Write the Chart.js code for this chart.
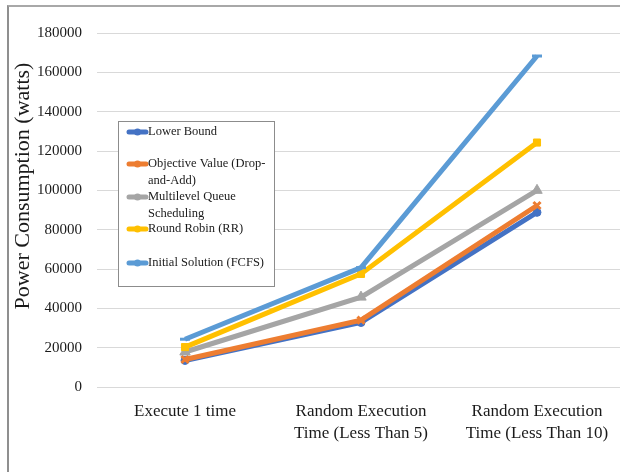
<!DOCTYPE html>
<html>
<head>
<meta charset="utf-8">
<script src="https://cdn.jsdelivr.net/npm/chart.js@4"></script>
<style>
  html, body { margin: 0; padding: 0; background: #fff; overflow: hidden; }
  #wrap { position: relative; width: 620px; height: 472px; overflow: hidden; }
  #box { position: absolute; left: 0; top: 0; width: 640px; height: 472px; }
  #frame { position: absolute; left: 7px; top: 5px; width: 700px; height: 600px;
           border-left: 2px solid #8f8f8f; border-top: 2px solid #a8a8a8; pointer-events: none; }
</style>
</head>
<body>
<div id="wrap">
  <div id="box"><canvas id="chart"></canvas></div>
  <div id="frame"></div>
</div>
<script>
// kategoriat (x-akseli), rivitetty
const categories = [
  ["Execute 1 time"],
  ["Random Execution", "Time (Less Than 5)"],
  ["Random Execution", "Time (Less Than 10)"]
];

// sarjat
const lowerBound      = [13500, 32800, 88800];
const objectiveValue  = [14000, 34000, 92300];
const multilevelQueue = [17800, 45700, 100000];
const roundRobin      = [20300, 57500, 124300];
const initialFCFS     = [24300, 60700, 168300];

const seriesNames = [
  "Lower Bound",
  "Objective Value (Drop-and-Add)",
  "Multilevel Queue Scheduling",
  "Round Robin (RR)",
  "Initial Solution (FCFS)"
];
// selitteen rivitys
const legendLines = [
  ["Lower Bound"],
  ["Objective Value (Drop-", "and-Add)"],
  ["Multilevel Queue", "Scheduling"],
  ["Round Robin (RR)"],
  ["Initial Solution (FCFS)"]
];

const yTickValues = [0, 20000, 40000, 60000, 80000, 100000, 120000, 140000, 160000, 180000];
const yTitle = "Power Consumption (watts)";

const colors  = ["#4472C4", "#ED7D31", "#A5A5A5", "#FFC000", "#5B9BD5"];
const markers = ["circle", "crossRot", "triangle", "rect", "line"];
const markerSize = [4, 5, 6, 5, 5];

const serif = "'Liberation Serif', 'Times New Roman', serif";
const seriesData = [lowerBound, objectiveValue, multilevelQueue, roundRobin, initialFCFS];

const datasets = seriesData.map(function (d, i) {
  return {
    label: seriesNames[i],
    data: d,
    borderColor: colors[i],
    backgroundColor: colors[i],
    pointBackgroundColor: colors[i],
    pointBorderColor: colors[i],
    pointStyle: markers[i],
    pointRadius: markerSize[i],
    pointBorderWidth: i === 1 || i === 4 ? 3 : 1,
    borderWidth: 5,
    tension: 0,
    order: 4 - i   // viimeinen sarja päällimmäiseksi kuten Excelissä
  };
});

// oma selite laatikkoon + akselin otsikko hieman ylempänä kuin keskellä
const boxLegend = {
  id: "boxLegend",
  afterDraw(chart) {
    const ctx = chart.ctx;
    const bx = 118.5, by = 121.5, bw = 156, bh = 165;
    const rowY = [132, 164, 197, 229, 263];
    ctx.save();
    ctx.fillStyle = "#fff";
    ctx.fillRect(bx, by, bw, bh);
    ctx.strokeStyle = "#8c8c8c";
    ctx.lineWidth = 1;
    ctx.strokeRect(bx, by, bw, bh);
    ctx.font = "12.5px " + serif;
    ctx.textBaseline = "middle";
    legendLines.forEach(function (lines, i) {
      const y = rowY[i];
      ctx.strokeStyle = colors[i];
      ctx.lineWidth = 5;
      ctx.lineCap = "round";
      ctx.beginPath();
      ctx.moveTo(129, y);
      ctx.lineTo(146, y);
      ctx.stroke();
      ctx.fillStyle = colors[i];
      ctx.beginPath();
      ctx.arc(137.5, y, 3.5, 0, Math.PI * 2);
      ctx.fill();
      ctx.fillStyle = "#1a1a1a";
      lines.forEach(function (t, k) {
        ctx.fillText(t, 148, y + k * 16.5);
      });
    });

    // y-akselin otsikko
    ctx.translate(23, 186);
    ctx.rotate(-Math.PI / 2);
    ctx.font = "22px " + serif;
    ctx.textAlign = "center";
    ctx.fillStyle = "#1a1a1a";
    ctx.fillText(yTitle, 0, 0);
    ctx.restore();
  }
};

new Chart(document.getElementById("chart"), {
  type: "line",
  data: { labels: categories, datasets: datasets },
  options: {
    responsive: true,
    maintainAspectRatio: false,
    animation: false,
    layout: { padding: { top: 33, right: 15, bottom: 0, left: 0 } },
    plugins: {
      legend: { display: false },
      tooltip: { enabled: false }
    },
    scales: {
      x: {
        offset: true,
        grid: { display: false },
        border: { display: false },
        ticks: {
          color: "#1a1a1a",
          font: { family: serif, size: 17, lineHeight: 1.3 },
          padding: 5,
          maxRotation: 0,
          autoSkip: false
        },
        afterFit(s) { s.height = 85; }
      },
      y: {
        min: 0,
        max: 180000,
        afterBuildTicks(axis) {
          axis.ticks = yTickValues.map(function (v) { return { value: v }; });
        },
        grid: { color: "#d9d9d9", lineWidth: 1, drawTicks: false },
        border: { display: false },
        ticks: {
          color: "#1a1a1a",
          font: { family: serif, size: 15 },
          padding: 15,
          callback: function (v) { return String(v); }
        },
        afterFit(s) { s.width = 97; }
      }
    }
  },
  plugins: [boxLegend]
});
</script>
</body>
</html>
